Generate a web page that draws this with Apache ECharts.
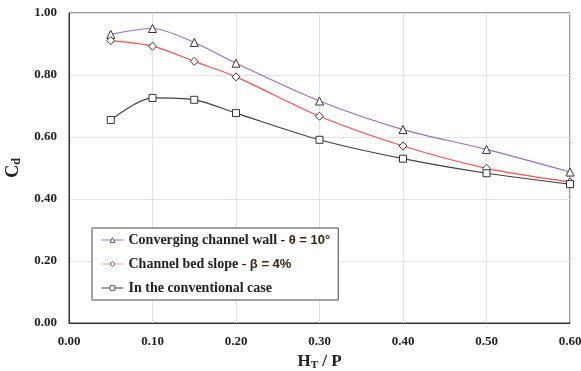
<!DOCTYPE html>
<html>
<head>
<meta charset="utf-8">
<script src="https://cdn.jsdelivr.net/npm/echarts@6/dist/echarts.min.js"></script>
<style>
  html, body { margin: 0; padding: 0; background: #fff; }
  #chart { width: 581px; height: 371px; }
</style>
</head>
<body>
<div id="chart"></div>
<script>
// H_T / P values
const htp = [0.05, 0.10, 0.15, 0.20, 0.30, 0.40, 0.50, 0.60]
// Cd values
const cdWall = [0.931, 0.950, 0.905, 0.838, 0.716, 0.624, 0.560, 0.487]
const cdSlope = [0.911, 0.893, 0.844, 0.794, 0.667, 0.571, 0.499, 0.455]
const cdConv = [0.655, 0.726, 0.720, 0.677, 0.591, 0.530, 0.483, 0.448]

const pairs = (ys) => htp.map((x, i) => [x, ys[i]])

const serif = 'Liberation Serif'
const chart = echarts.init(document.getElementById('chart'))

const mk = (name, data, color, symbol, size) => ({
  name: name,
  type: 'line',
  smooth: 0.3,
  data: pairs(data),
  symbol: symbol,
  symbolSize: size,
  showAllSymbol: true,
  lineStyle: { color: color, width: 1.2 },
  itemStyle: { color: '#fff', borderColor: '#333', borderWidth: 1 },
  emphasis: { disabled: true },
  z: 3
})

chart.setOption({
  animation: false,
  grid: {
    left: 69, right: 11, top: 13, bottom: 48,
    outerBoundsMode: 'none',
    show: true, borderColor: '#333', borderWidth: 1
  },
  xAxis: {
    type: 'value',
    min: 0,
    max: 0.6,
    interval: 0.1,
    name: '{b|H}{s|T}{b| / P}',
    nameLocation: 'middle',
    nameGap: 21,
    nameTextStyle: {
      rich: {
        b: { fontFamily: serif, fontWeight: 'bold', fontSize: 17, color: '#222' },
        s: { fontFamily: serif, fontWeight: 'bold', fontSize: 11, color: '#222', verticalAlign: 'bottom', padding: [8, 0, 0, 0] }
      }
    },
    axisLine: { lineStyle: { color: '#333', width: 1 } },
    axisTick: { show: false },
    axisLabel: {
      formatter: v => v.toFixed(2),
      fontFamily: serif, fontWeight: 'bold', fontSize: 13, color: '#222', margin: 12
    },
    splitLine: { lineStyle: { color: '#e2e2ec', width: 1 } }
  },
  yAxis: {
    type: 'value',
    min: 0,
    max: 1,
    interval: 0.2,
    name: '{b|C}{s|d}',
    nameLocation: 'middle',
    nameRotate: 90,
    nameGap: 45,
    nameTextStyle: {
      rich: {
        b: { fontFamily: serif, fontWeight: 'bold', fontSize: 18, color: '#222' },
        s: { fontFamily: serif, fontWeight: 'bold', fontSize: 12, color: '#222', verticalAlign: 'bottom', padding: [8, 0, 0, 0] }
      }
    },
    axisLine: { show: true, lineStyle: { color: '#333', width: 1 } },
    axisTick: { show: false },
    axisLabel: {
      formatter: v => v.toFixed(2),
      fontFamily: serif, fontWeight: 'bold', fontSize: 13, color: '#222', margin: 12
    },
    splitLine: { lineStyle: { color: '#e2e2ec', width: 1 } }
  },
  legend: {
    left: 92,
    top: 228,
    orient: 'vertical',
    itemGap: 10,
    itemWidth: 22,
    itemHeight: 6,
    padding: [5, 8, 5, 9],
    backgroundColor: '#fff',
    borderColor: '#444',
    borderWidth: 1,
    formatter: function (name) {
      if (name === 'wall') return '{t|Converging channel wall - }{g|θ = 10°}'
      if (name === 'slope') return '{t|Channel bed slope - }{g|β = 4%}'
      return '{t|In the conventional case}'
    },
    textStyle: {
      rich: {
        t: { fontFamily: serif, fontWeight: 'bold', fontSize: 14, color: '#222', lineHeight: 16 },
        g: { fontFamily: 'Liberation Sans', fontWeight: 'bold', fontSize: 13, color: '#3a2510', lineHeight: 16 }
      }
    },
    data: [
      { name: 'wall', itemStyle: { borderWidth: 0.8 }, lineStyle: { width: 1 } },
      { name: 'slope', itemStyle: { borderWidth: 0.8 }, lineStyle: { width: 1, color: '#ff9a9a' } },
      { name: 'conv', itemStyle: { borderWidth: 0.8 }, lineStyle: { width: 1 } }
    ]
  },
  series: [
    mk('wall', cdWall, '#9a6cc8', 'triangle', 8),
    mk('slope', cdSlope, '#ff4c4c', 'diamond', 8),
    mk('conv', cdConv, '#404040', 'rect', 7)
  ]
})
</script>
</body>
</html>
